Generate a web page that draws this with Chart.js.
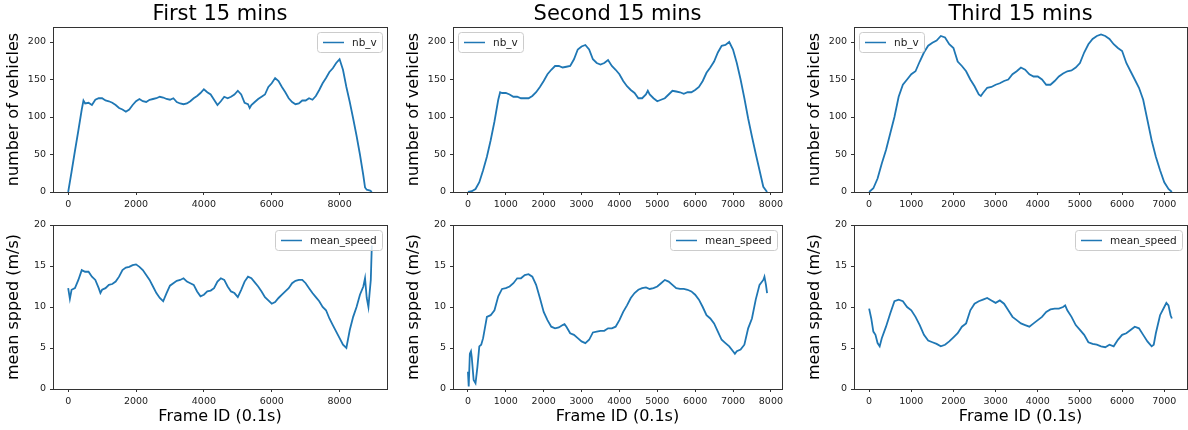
<!DOCTYPE html>
<html>
<head>
<meta charset="utf-8">
<script src="https://cdn.jsdelivr.net/npm/chart.js@4/dist/chart.umd.min.js"></script>
<style>
  html, body { margin: 0; padding: 0; background: #fff; }
  #fig { position: relative; width: 1188px; height: 430px; overflow: hidden; background: #fff; }
  #fig canvas { position: absolute; }
</style>
</head>
<body>
<div id="fig"></div>
<script>
// ---- data (frame id, value) ----
const titles = ['First 15 mins', 'Second 15 mins', 'Third 15 mins'];

// first 15 mins: number of vehicles
const countFrames1 = [
  0, 100, 200, 300, 400, 450, 500, 600, 700, 800,
  900, 1000, 1100, 1200, 1300, 1400, 1500, 1600, 1700, 1800,
  1900, 2000, 2100, 2200, 2300, 2400, 2500, 2600, 2700, 2800,
  2900, 3000, 3100, 3200, 3300, 3400, 3500, 3600, 3700, 3800,
  3900, 4000, 4100, 4200, 4300, 4400, 4500, 4600, 4700, 4800,
  4900, 5000, 5100, 5200, 5300, 5350, 5400, 5500, 5600, 5700,
  5800, 5900, 6000, 6100, 6200, 6300, 6400, 6500, 6600, 6700,
  6800, 6900, 7000, 7100, 7200, 7300, 7400, 7500, 7600, 7700,
  7800, 7900, 8000, 8100, 8200, 8300, 8400, 8500, 8600, 8700,
  8750, 8800, 8900, 8950
];
const countValues1 = [
  0, 27, 55, 82, 110, 122, 118, 119, 116, 123,
  125, 125, 122, 121, 119, 116, 112, 110, 107, 110,
  116, 121, 124, 121, 120, 123, 124, 125, 127, 126,
  124, 123, 125, 120, 118, 117, 118, 121, 125, 128,
  132, 137, 133, 130, 123, 116, 121, 127, 125, 127,
  130, 135, 130, 119, 117, 112, 116, 120, 124, 127,
  130, 140, 145, 152, 148, 140, 133, 125, 120, 117,
  118, 122, 122, 125, 123, 128, 136, 145, 152, 160,
  165, 172, 177, 163, 140, 120, 98, 75, 50, 22,
  6, 3, 2, 0
];

// first 15 mins: mean speed
const speedFrames1 = [
  0, 50, 100, 200, 300, 400, 500, 600, 700, 800,
  900, 950, 1000, 1100, 1200, 1300, 1400, 1500, 1600, 1700,
  1800, 1900, 2000, 2100, 2200, 2300, 2400, 2500, 2600, 2700,
  2800, 2900, 3000, 3100, 3200, 3300, 3400, 3500, 3600, 3700,
  3800, 3900, 4000, 4100, 4200, 4300, 4400, 4500, 4600, 4700,
  4800, 4900, 5000, 5100, 5200, 5300, 5400, 5500, 5600, 5700,
  5800, 5900, 6000, 6100, 6200, 6300, 6400, 6500, 6600, 6700,
  6800, 6900, 7000, 7100, 7200, 7300, 7400, 7500, 7600, 7700,
  7800, 7900, 8000, 8100, 8200, 8300, 8400, 8500, 8600, 8700,
  8750, 8800, 8850, 8880, 8920, 8950
];
const speedValues1 = [
  12.3, 11.0, 12.1, 12.3, 13.3, 14.5, 14.3, 14.3, 13.7, 13.3,
  12.3, 11.7, 12.1, 12.3, 12.7, 12.8, 13.1, 13.7, 14.5, 14.8,
  14.9, 15.1, 15.2, 14.9, 14.5, 13.9, 13.3, 12.5, 11.7, 11.1,
  10.7, 11.7, 12.6, 12.9, 13.2, 13.3, 13.5, 13.1, 12.9, 12.7,
  11.9, 11.3, 11.5, 11.9, 12.0, 12.3, 13.1, 13.5, 13.3, 12.5,
  11.9, 11.7, 11.2, 12.1, 13.1, 13.7, 13.5, 13.0, 12.5, 11.9,
  11.2, 10.8, 10.4, 10.6, 11.1, 11.5, 11.9, 12.3, 12.9, 13.2,
  13.3, 13.3, 12.9, 12.3, 11.7, 11.2, 10.7, 10.0, 9.6, 8.6,
  7.8, 7.0, 6.2, 5.4, 5.0, 7.2, 8.8, 10.0, 11.5, 12.5,
  13.5, 11.1, 10.0, 11.5, 13.3, 17.5
];

// second 15 mins: number of vehicles
const countFrames2 = [
  0, 100, 200, 300, 400, 500, 600, 700, 800, 850,
  900, 1000, 1100, 1200, 1300, 1400, 1500, 1600, 1700, 1800,
  1900, 2000, 2100, 2200, 2300, 2400, 2500, 2600, 2700, 2800,
  2900, 3000, 3100, 3200, 3300, 3400, 3500, 3600, 3700, 3800,
  3900, 4000, 4100, 4200, 4300, 4400, 4500, 4600, 4700, 4750,
  4800, 4900, 5000, 5100, 5200, 5300, 5400, 5500, 5600, 5700,
  5800, 5900, 6000, 6100, 6200, 6300, 6400, 6500, 6600, 6700,
  6800, 6900, 7000, 7100, 7200, 7300, 7400, 7500, 7600, 7700,
  7800, 7900
];
const countValues2 = [
  0, 1, 4, 13, 29, 47, 69, 94, 123, 133,
  132, 132, 130, 127, 127, 125, 125, 125, 128, 133,
  140, 148, 157, 163, 168, 168, 166, 167, 168, 177,
  190, 194, 196, 190, 177, 172, 170, 172, 176, 168,
  163, 157, 148, 141, 136, 132, 125, 125, 130, 135,
  130, 125, 121, 123, 125, 130, 135, 134, 133, 131,
  133, 133, 136, 140, 148, 159, 166, 174, 186, 195,
  196, 200, 190, 172, 150, 125, 98, 74, 51, 29,
  7, 0
];

// second 15 mins: mean speed
const speedFrames2 = [
  0, 20, 50, 80, 100, 150, 200, 250, 300, 350,
  400, 500, 600, 700, 800, 900, 1000, 1100, 1200, 1300,
  1400, 1500, 1600, 1700, 1800, 1900, 2000, 2100, 2200, 2300,
  2400, 2500, 2550, 2600, 2700, 2800, 2900, 3000, 3100, 3200,
  3300, 3400, 3500, 3600, 3700, 3800, 3900, 4000, 4100, 4200,
  4300, 4400, 4500, 4600, 4700, 4800, 4900, 5000, 5100, 5200,
  5300, 5400, 5500, 5600, 5700, 5800, 5900, 6000, 6100, 6200,
  6300, 6400, 6500, 6600, 6700, 6800, 6900, 7000, 7050, 7100,
  7200, 7300, 7400, 7500, 7600, 7700, 7800, 7830, 7870, 7900
];
const speedValues2 = [
  2.1, 0.3, 4.3, 4.6, 3.9, 1.1, 0.7, 2.7, 5.2, 5.4,
  6.2, 8.8, 9.0, 9.6, 11.3, 12.2, 12.3, 12.5, 12.9, 13.5,
  13.5, 13.9, 14.0, 13.7, 12.7, 11.1, 9.4, 8.4, 7.6, 7.4,
  7.5, 7.8, 7.9, 7.6, 6.8, 6.6, 6.2, 5.8, 5.6, 6.0,
  6.9, 7.0, 7.1, 7.1, 7.4, 7.4, 7.6, 8.4, 9.4, 10.2,
  11.1, 11.7, 12.1, 12.3, 12.4, 12.2, 12.3, 12.5, 12.9, 13.3,
  13.1, 12.7, 12.3, 12.2, 12.2, 12.1, 11.9, 11.5, 10.9, 10.0,
  9.0, 8.6, 8.0, 7.0, 6.0, 5.6, 5.2, 4.6, 4.3, 4.6,
  4.8, 5.4, 7.4, 8.6, 10.9, 12.7, 13.3, 13.7, 12.7, 11.7
];

// third 15 mins: number of vehicles
const countFrames3 = [
  0, 100, 200, 300, 400, 500, 600, 700, 800, 900,
  1000, 1100, 1200, 1300, 1400, 1500, 1600, 1700, 1800, 1900,
  2000, 2100, 2200, 2300, 2400, 2500, 2600, 2650, 2700, 2800,
  2900, 3000, 3100, 3200, 3300, 3400, 3500, 3600, 3700, 3800,
  3900, 4000, 4100, 4200, 4300, 4400, 4500, 4600, 4700, 4800,
  4900, 5000, 5100, 5200, 5300, 5400, 5500, 5600, 5700, 5800,
  5900, 6000, 6100, 6200, 6300, 6400, 6500, 6600, 6700, 6800,
  6900, 7000, 7100, 7180
];
const countValues3 = [
  0, 5, 18, 38, 56, 78, 100, 127, 143, 150,
  157, 161, 174, 186, 195, 199, 202, 208, 206, 197,
  192, 174, 168, 161, 150, 141, 130, 128, 132, 139,
  140, 143, 145, 148, 150, 157, 161, 166, 163, 157,
  154, 154, 150, 143, 143, 148, 154, 158, 161, 162,
  166, 172, 186, 197, 204, 208, 210, 208, 204, 197,
  192, 188, 172, 161, 150, 139, 123, 96, 69, 47,
  29, 13, 4, 0
];

// third 15 mins: mean speed
const speedFrames3 = [
  0, 50, 100, 150, 200, 250, 300, 400, 500, 600,
  700, 800, 900, 1000, 1100, 1200, 1300, 1400, 1500, 1600,
  1700, 1800, 1900, 2000, 2100, 2200, 2300, 2400, 2500, 2600,
  2700, 2800, 2900, 3000, 3100, 3200, 3300, 3400, 3500, 3600,
  3700, 3800, 3900, 4000, 4100, 4200, 4300, 4400, 4500, 4600,
  4650, 4700, 4800, 4900, 5000, 5100, 5200, 5300, 5400, 5500,
  5600, 5700, 5800, 5900, 6000, 6100, 6200, 6300, 6400, 6500,
  6600, 6700, 6750, 6800, 6900, 7000, 7050, 7100, 7150, 7180
];
const speedValues3 = [
  9.8, 8.6, 7.0, 6.6, 5.6, 5.2, 6.2, 7.6, 9.2, 10.7,
  10.9, 10.7, 10.0, 9.6, 8.8, 7.8, 6.6, 5.9, 5.7, 5.5,
  5.2, 5.4, 5.8, 6.3, 6.8, 7.6, 8.0, 9.6, 10.4, 10.7,
  10.9, 11.1, 10.8, 10.5, 10.8, 10.4, 9.6, 8.8, 8.4, 8.0,
  7.8, 7.6, 8.0, 8.4, 8.8, 9.4, 9.7, 9.8, 9.8, 10.0,
  10.2, 9.6, 8.8, 7.8, 7.2, 6.6, 5.7, 5.5, 5.4, 5.2,
  5.1, 5.4, 5.2, 6.0, 6.6, 6.8, 7.2, 7.6, 7.4, 6.6,
  5.8, 5.2, 5.4, 6.8, 9.0, 10.0, 10.5, 10.2, 9.0, 8.6
];

// tick labels
const xTicks1 = [0, 2000, 4000, 6000, 8000];
const xTicks2 = [0, 1000, 2000, 3000, 4000, 5000, 6000, 7000, 8000];
const xTicks3 = [0, 1000, 2000, 3000, 4000, 5000, 6000, 7000];
const countTicks = [0, 50, 100, 150, 200];
const speedTicks = [0, 5, 10, 15, 20];

// ---- drawing ----
Chart.defaults.font.family = "'DejaVu Sans', sans-serif";
Chart.defaults.color = '#222';

const BLUE = '#1f77b4';
const FONT = "'DejaVu Sans', sans-serif";

// matplotlib style frame: all four spines
const framePlugin = {
    id: 'frame',
    afterDraw(chart) {
        const {ctx, chartArea: a} = chart;
        ctx.save();
        ctx.strokeStyle = '#333';
        ctx.lineWidth = 1;
        ctx.strokeRect(Math.round(a.left) + 0.5, Math.round(a.top) + 0.5,
            Math.round(a.right) - Math.round(a.left), Math.round(a.bottom) - Math.round(a.top));
        ctx.restore();
    }
};

// legend box drawn inside the axes
const insideLegend = {
    id: 'insideLegend',
    afterDatasetsDraw(chart, args, opts) {
        const {ctx, chartArea: a} = chart;
        const ds = chart.data.datasets[0];
        ctx.save();
        ctx.font = '10.5px ' + FONT;
        const tw = ctx.measureText(ds.label).width;
        const w = Math.round(6 + 21 + 8 + tw + 5), h = 20;
        const x = opts.side === 'left' ? Math.round(a.left) + 5 : Math.round(a.right) - 5 - w;
        const y = Math.round(a.top) + 5;
        ctx.beginPath();
        ctx.roundRect(x + 0.5, y + 0.5, w, h, 3);
        ctx.fillStyle = 'rgba(255,255,255,0.8)';
        ctx.fill();
        ctx.strokeStyle = '#cccccc';
        ctx.lineWidth = 1;
        ctx.stroke();
        ctx.beginPath();
        ctx.moveTo(x + 6, y + h / 2 + 0.5);
        ctx.lineTo(x + 27, y + h / 2 + 0.5);
        ctx.strokeStyle = ds.borderColor;
        ctx.lineWidth = 1.5;
        ctx.stroke();
        ctx.fillStyle = '#222';
        ctx.textBaseline = 'middle';
        ctx.fillText(ds.label, x + 35, y + h / 2 + 1);
        ctx.restore();
    }
};

// panel title centred over the axes
const panelTitle = {
    id: 'panelTitle',
    afterDraw(chart, args, opts) {
        if (!opts.text) return;
        const {ctx, chartArea: a} = chart;
        ctx.save();
        ctx.font = '21px ' + FONT;
        ctx.fillStyle = '#000';
        ctx.textAlign = 'center';
        ctx.textBaseline = 'middle';
        ctx.fillText(opts.text, (a.left + a.right) / 2, 14.5);
        ctx.restore();
    }
};

function toPoints(xs, ys) {
    return xs.map((x, i) => ({x: x, y: ys[i]}));
}

const fig = document.getElementById('fig');
const areaLeft = [53, 453, 854];
const areaWidth = [334, 333, 333];
const Y_AXIS_W = 53;

function makePanel(col, row, cfg) {
    const canvas = document.createElement('canvas');
    const w = Y_AXIS_W + areaWidth[col] + 1;
    const h = 215;
    canvas.width = w;
    canvas.height = h;
    canvas.style.left = (areaLeft[col] - Y_AXIS_W) + 'px';
    canvas.style.top = (row * 215) + 'px';
    fig.appendChild(canvas);

    // x range like matplotlib: 5% margin on the data span
    const xMaxData = Math.max(...cfg.frames);
    const xPad = xMaxData * 0.05;

    new Chart(canvas, {
        type: 'line',
        data: {
            datasets: [{
                label: cfg.label,
                data: toPoints(cfg.frames, cfg.values),
                borderColor: BLUE,
                borderWidth: 1.8,
                pointRadius: 0,
                tension: 0,
                fill: false
            }]
        },
        options: {
            responsive: false,
            animation: false,
            events: [],
            layout: {
                padding: { top: row === 0 ? 27 : 10, right: 1, bottom: 0, left: 0 }
            },
            plugins: {
                legend: { display: false },
                tooltip: { enabled: false },
                insideLegend: { side: cfg.legendSide },
                panelTitle: { text: row === 0 ? titles[col] : '' }
            },
            scales: {
                x: {
                    type: 'linear',
                    min: -xPad,
                    max: xMaxData + xPad,
                    afterBuildTicks: s => { s.ticks = cfg.xTicks.map(v => ({value: v})); },
                    afterFit: s => { s.height = row === 0 ? 23 : 41; },
                    grid: { drawOnChartArea: false, drawTicks: true, tickLength: 3, color: '#333', lineWidth: 1 },
                    border: { display: false },
                    ticks: {
                        padding: 4,
                        maxRotation: 0,
                        font: { size: 9.5 },
                        color: '#222',
                        callback: v => String(v)
                    },
                    title: {
                        display: row === 1,
                        text: 'Frame ID (0.1s)',
                        color: '#000',
                        font: { size: 16 },
                        padding: { top: 0, bottom: 4 }
                    }
                },
                y: {
                    type: 'linear',
                    min: 0,
                    max: cfg.yMax,
                    afterBuildTicks: s => { s.ticks = cfg.yTicks.map(v => ({value: v})); },
                    afterFit: s => { s.width = Y_AXIS_W; },
                    grid: { drawOnChartArea: false, drawTicks: true, tickLength: 3, color: '#333', lineWidth: 1 },
                    border: { display: false },
                    ticks: {
                        padding: 4,
                        font: { size: 9.5 },
                        color: '#222',
                        callback: v => String(v)
                    },
                    title: {
                        display: true,
                        text: cfg.yTitle,
                        color: '#000',
                        font: { size: 16 },
                        padding: { top: 4, bottom: 0 }
                    }
                }
            }
        },
        plugins: [insideLegend, framePlugin, panelTitle]
    });
}

const countSeries = [
    [countFrames1, countValues1, xTicks1, 'right'],
    [countFrames2, countValues2, xTicks2, 'left'],
    [countFrames3, countValues3, xTicks3, 'left']
];
const speedSeries = [
    [speedFrames1, speedValues1, xTicks1],
    [speedFrames2, speedValues2, xTicks2],
    [speedFrames3, speedValues3, xTicks3]
];

countSeries.forEach((s, col) => {
    makePanel(col, 0, {
        frames: s[0], values: s[1], xTicks: s[2], legendSide: s[3],
        label: 'nb_v', yMax: 220, yTicks: countTicks, yTitle: 'number of vehicles'
    });
});
speedSeries.forEach((s, col) => {
    makePanel(col, 1, {
        frames: s[0], values: s[1], xTicks: s[2], legendSide: 'right',
        label: 'mean_speed', yMax: 20, yTicks: speedTicks, yTitle: 'mean spped (m/s)'
    });
});
</script>
</body>
</html>
